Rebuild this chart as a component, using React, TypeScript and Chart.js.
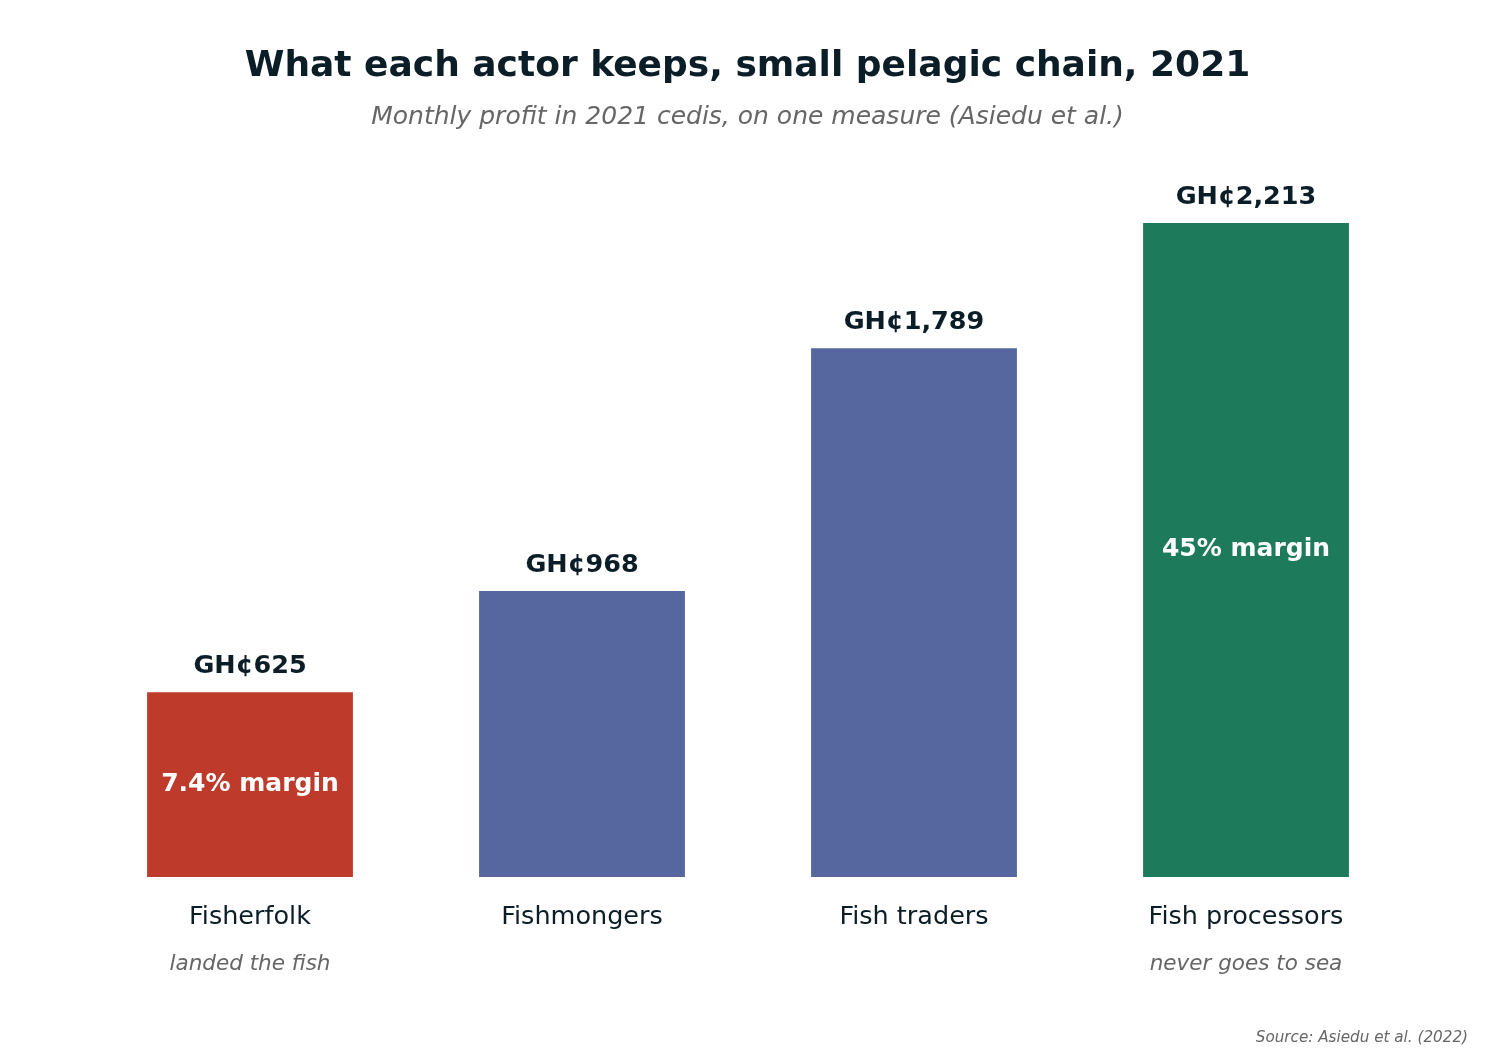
import { useRef, useEffect } from 'react';
import { Chart, registerables } from 'chart.js';

Chart.register(...registerables);

const ACTORS = ['Fisherfolk', 'Fishmongers', 'Fish traders', 'Fish processors'];
const PROFIT = [625, 968, 1789, 2213];
const NOTES = ['landed the fish', '', '', 'never goes to sea'];
const MARGINS = ['7.4% margin', '', '', '45% margin'];
const BAR_COLORS = ['#BE3A2B', '#5667A0', '#5667A0', '#1D7A5A'];

const INK = '#0B1D26';
const GREY = '#666666';
const FONT = '"DejaVu Sans", sans-serif';

export default function App() {
  const canvasRef = useRef<HTMLCanvasElement>(null);

  useEffect(() => {
    if (!canvasRef.current) return;
    document.body.style.margin = '0';

    const chart = new Chart(canvasRef.current, {
      type: 'bar',
      data: {
        labels: ACTORS,
        datasets: [
          {
            data: PROFIT,
            backgroundColor: BAR_COLORS,
            borderWidth: 0,
            barPercentage: 0.62,
            categoryPercentage: 1,
          },
        ],
      },
      options: {
        responsive: false,
        animation: false,
        layout: { padding: { top: 150, bottom: 179, left: 84, right: 83 } },
        plugins: {
          legend: { display: false },
          tooltip: { enabled: false },
        },
        scales: {
          x: { display: false },
          y: { display: false, min: 0, max: 2460 },
        },
      },
      plugins: [{
        id: 'annotations',
        afterDraw(c) {
          const ctx = c.ctx;
          const x = c.scales.x;
          const y = c.scales.y;
          const w = c.width;
          ctx.save();
          ctx.textAlign = 'center';
          ctx.textBaseline = 'middle';

          ctx.fillStyle = INK;
          ctx.font = `bold 36px ${FONT}`;
          ctx.fillText('What each actor keeps, small pelagic chain, 2021', w / 2, 67);
          ctx.fillStyle = GREY;
          ctx.font = `italic 25px ${FONT}`;
          ctx.fillText('Monthly profit in 2021 cedis, on one measure (Asiedu et al.)', w / 2, 117);

          ACTORS.forEach((name, i) => {
            const cx = x.getPixelForValue(i);
            const top = y.getPixelForValue(PROFIT[i]);
            const base = y.getPixelForValue(0);

            ctx.fillStyle = INK;
            ctx.font = `bold 25.5px ${FONT}`;
            ctx.fillText(`GH¢${PROFIT[i].toLocaleString('en-US')}`, cx, top - 26);

            if (MARGINS[i]) {
              ctx.fillStyle = '#FFFFFF';
              ctx.font = `bold 25px ${FONT}`;
              ctx.fillText(MARGINS[i], cx, (top + base) / 2);
            }

            ctx.fillStyle = INK;
            ctx.font = `25.5px ${FONT}`;
            ctx.fillText(name, cx, base + 40);

            if (NOTES[i]) {
              ctx.fillStyle = GREY;
              ctx.font = `italic 21.5px ${FONT}`;
              ctx.fillText(NOTES[i], cx, base + 87);
            }
          });

          ctx.textAlign = 'right';
          ctx.fillStyle = GREY;
          ctx.font = `italic 15.2px ${FONT}`;
          ctx.fillText('Source: Asiedu et al. (2022)', w - 27, 1038);
          ctx.restore();
        },
      }],
    });

    return () => {
      chart.destroy();
    };
  }, []);

  return (
    <div style={{ width: 1495, height: 1056, background: '#FFFFFF' }}>
      <canvas ref={canvasRef} width={1495} height={1056} />
    </div>
  );
}
